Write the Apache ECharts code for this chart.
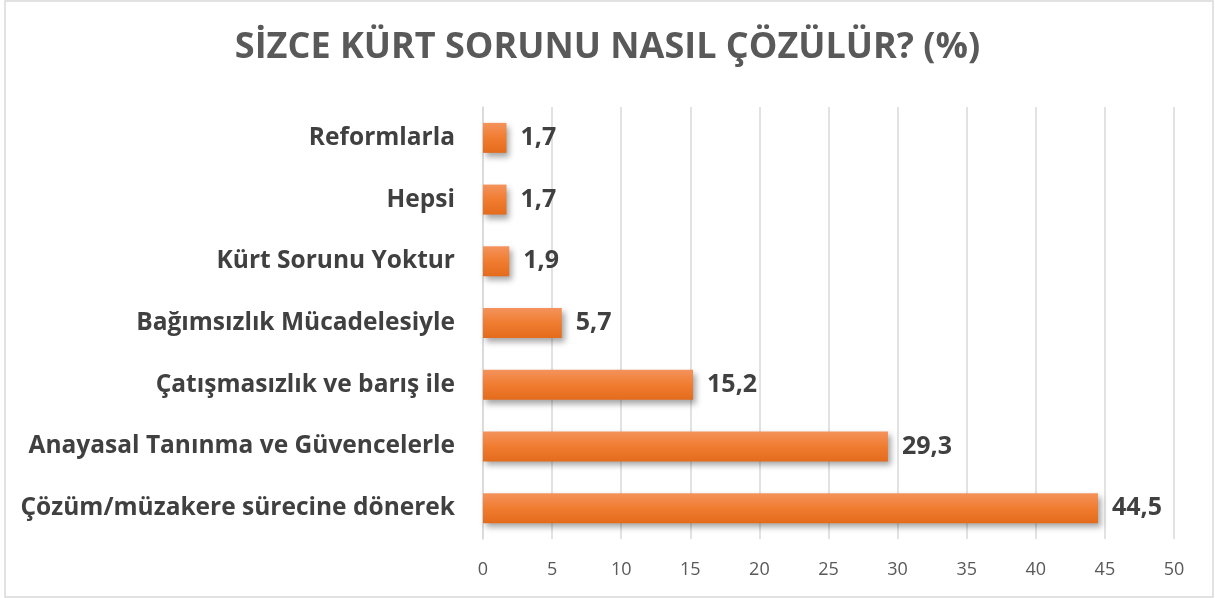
<!DOCTYPE html>
<html>
<head>
<meta charset="utf-8">
<script src="https://cdn.jsdelivr.net/npm/echarts@6/dist/echarts.min.js"></script>
<style>
  html, body { margin: 0; padding: 0; background: #fff; }
  #chart { width: 1215px; height: 598px; }
</style>
</head>
<body>
<div id="chart"></div>
<script>
var categories = [
  'Çözüm/müzakere sürecine dönerek',
  'Anayasal Tanınma ve Güvencelerle',
  'Çatışmasızlık ve barış ile',
  'Bağımsızlık Mücadelesiyle',
  'Kürt Sorunu Yoktur',
  'Hepsi',
  'Reformlarla'
]
var values = [44.5, 29.3, 15.2, 5.7, 1.9, 1.7, 1.7]

var chart = echarts.init(document.getElementById('chart'))

var fontFamily = '"Open Sans", "Noto Sans", sans-serif'

chart.setOption({
  animation: false,
  title: {
    text: 'SİZCE KÜRT SORUNU NASIL ÇÖZÜLÜR? (%)',
    left: 'center',
    top: 25,
    textStyle: { fontFamily: fontFamily, fontSize: 36, fontWeight: 'bold', color: '#595959' }
  },
  graphic: [{
    type: 'rect',
    shape: { x: 5, y: 1, width: 1208, height: 596 },
    style: { fill: 'none', stroke: '#d9d9d9', lineWidth: 1.5 },
    silent: true
  }],
  grid: { left: 483, right: 41, top: 107, bottom: 59, containLabel: false },
  xAxis: {
    type: 'value',
    min: 0,
    max: 50,
    interval: 5,
    axisLine: { show: false },
    axisTick: { show: false },
    splitLine: { lineStyle: { color: '#d9d9d9', width: 1.5 } },
    axisLabel: { margin: 22, fontFamily: fontFamily, fontSize: 18, color: '#595959' }
  },
  yAxis: {
    type: 'category',
    data: categories,
    axisLine: { show: true, lineStyle: { color: '#d9d9d9', width: 1.5 } },
    axisTick: { show: false },
    axisLabel: { margin: 28, fontFamily: fontFamily, fontSize: 24.5, fontWeight: 'bold', color: '#404040' }
  },
  series: [{
    type: 'bar',
    data: values,
    barWidth: 30,
    itemStyle: {
      color: new echarts.graphic.LinearGradient(0, 0, 0, 1, [
        { offset: 0, color: '#f4935c' },
        { offset: 0.5, color: '#f07c30' },
        { offset: 1, color: '#e46b1c' }
      ]),
      shadowColor: 'rgba(0,0,0,0.35)',
      shadowBlur: 6,
      shadowOffsetX: 3,
      shadowOffsetY: 4
    },
    label: {
      show: true,
      position: 'right',
      distance: 14,
      fontFamily: fontFamily,
      fontSize: 25,
      fontWeight: 'bold',
      color: '#404040',
      formatter: function (p) { return String(p.value).replace('.', ',') }
    }
  }]
})
</script>
</body>
</html>
